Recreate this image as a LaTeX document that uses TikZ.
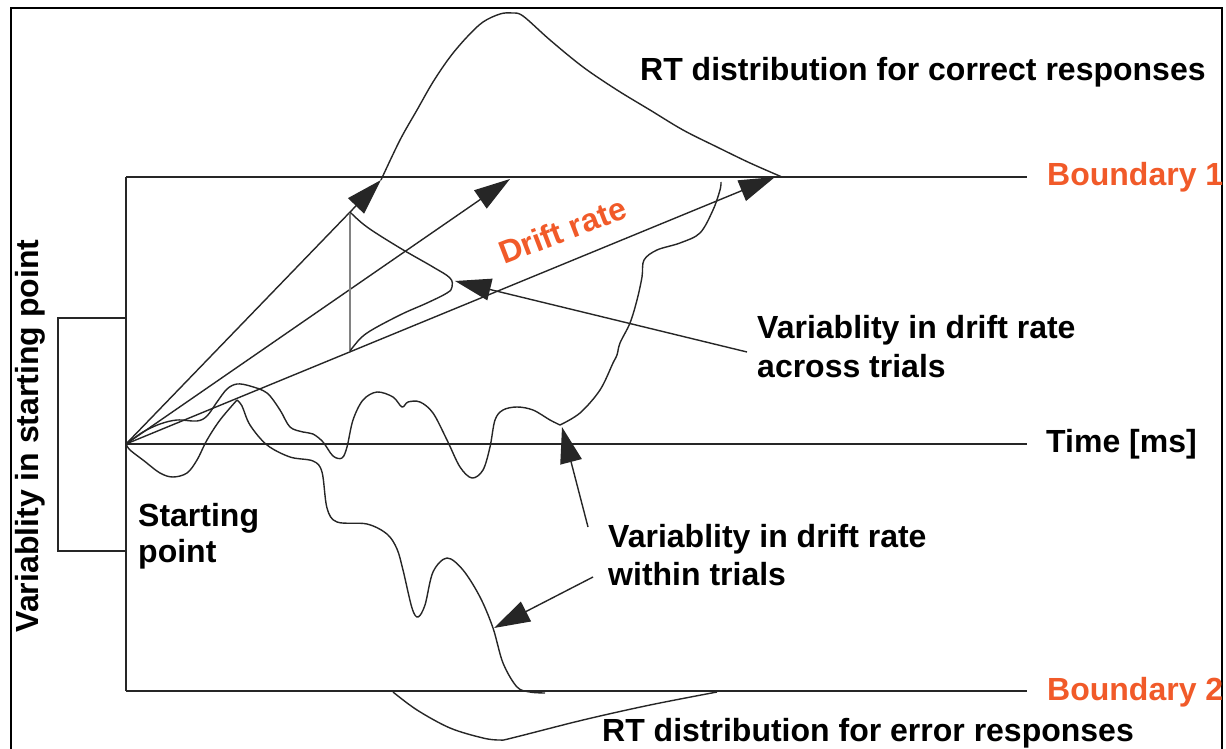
\documentclass[tikz,border=0pt]{standalone}
\usepackage{fontspec}
\setmainfont{Liberation Sans}
\usetikzlibrary{arrows.meta}
\definecolor{ddmorange}{RGB}{241,90,41}
\definecolor{ink}{RGB}{38,38,38}
\definecolor{softgray}{RGB}{130,130,130}

\begin{document}
\begin{tikzpicture}[x=1pt,y=-1pt,
  frameline/.style={line width=2.4pt, draw=ink},
  boxline/.style={line width=2.6pt, draw=black},
  pathline/.style={line width=1.4pt, draw=ink, line join=round},
  ptr/.style={line width=1.4pt, draw=ink, -{Triangle[length=36pt,width=22pt]}},
  lbl/.style={font=\fontsize{32}{38}\selectfont\bfseries, inner sep=0pt, anchor=base west},
  olbl/.style={lbl, text=ddmorange},
]
\fill[white] (0,0) rectangle (1226,749);
\useasboundingbox (0,0) rectangle (1226,749);

% outer box, open at the bottom
\draw[boxline] (11,749) -- (11,8) -- (1222,8) -- (1222,749);

% key points
\coordinate (S) at (126,444);
\coordinate (B1L) at (126,177);
\coordinate (B1R) at (1027,177);
\coordinate (B2L) at (126,691);
\coordinate (B2R) at (1027,691);
\coordinate (TR) at (1027,444);

% boundaries, time axis and left edge
\draw[frameline] (B1L) -- (B1R);
\draw[frameline] (B2L) -- (B2R);
\draw[frameline] (S) -- (TR);
\draw[frameline] (B1L) -- (B2L);

% starting-point range bracket
\coordinate (brT) at (126,318);
\coordinate (brB) at (126,551);
\draw[frameline] (brT) -- (58,318) -- (58,551) -- (brB);

% drift rates across trials
\coordinate (tip1) at (381,180);
\coordinate (tip2) at (510,179);
\coordinate (tip3) at (775,177);
\draw[ptr] (S) -- (tip1);
\draw[ptr] (S) -- (tip2);
\draw[ptr] (S) -- (tip3);

% spread of drift rates
\draw[line width=1.6pt, draw=softgray] (350,213) -- (350,352);
\draw[pathline] plot[smooth, tension=0.6] coordinates {
  (350,212) (367,227) (400,248) (433,267) (450,278) (452,287) (447,293)
  (427,303) (400,315) (367,333) (353,347) (350,352)};

% RT distribution for correct responses
\draw[pathline] plot[smooth, tension=0.55] coordinates {
  (381,180) (400,140) (417,110) (433,82) (450,57) (467,37) (483,22)
  (500,14) (512,13) (523,16) (550,40) (583,67) (617,90) (650,110)
  (683,130) (717,147) (750,163) (782,177)};

% RT distribution for error responses
\draw[pathline] plot[smooth, tension=0.55] coordinates {
  (393,692) (417,710) (450,728) (483,738) (500,740) (512,738)
  (583,720) (650,705) (717,692)};

% sample path ending at boundary 1
\coordinate (kinkA) at (560,425);
\draw[pathline] plot[smooth, tension=0.55] coordinates {
  (126,444) (143,432) (160,424) (177,420) (197,421) (207,416) (217,402)
  (227,389) (237,384) (250,386) (267,393) (280,410) (290,427) (303,432)
  (313,434) (323,442) (333,456) (342,458) (347,447) (353,420) (363,400)
  (377,392) (393,397) (402,407) (408,402) (420,402) (433,413) (447,440)
  (460,467) (472,478) (483,470) (490,447) (495,420) (503,410) (517,407)
  (533,410) (550,420) (560,425)};
\draw[pathline] plot[smooth, tension=0.55] coordinates {
  (560,425) (580,413) (600,390) (613,363) (617,355) (620,343) (630,323)
  (637,300) (642,277) (644,260) (657,250) (680,243) (700,233) (713,210)
  (720,190) (721,182)};

% sample path ending at boundary 2
\draw[pathline] plot[smooth, tension=0.55] coordinates {
  (126,444) (130,450) (143,460) (160,473) (173,477) (187,473) (197,460)
  (207,440) (220,420) (237,400)};
\draw[pathline] plot[smooth, tension=0.55] coordinates {
  (237,400) (242,406) (250,425) (267,445) (290,457) (313,461) (322,472)
  (327,508) (337,522) (367,524) (387,534) (397,549) (403,570) (412,608)
  (418,617) (425,605) (433,572) (447,558) (463,570) (480,597) (493,628)
  (503,663) (517,687) (530,692) (545,693)};

% pointers to the annotated features
\coordinate (acrossEnd) at (747,352);
\coordinate (acrossTip) at (455,281);
\draw[ptr] (acrossEnd) -- (acrossTip);
\coordinate (withinEndA) at (588,527);
\coordinate (withinTipA) at (562,427);
\draw[ptr] (withinEndA) -- (withinTipA);
\coordinate (withinEndB) at (593,577);
\coordinate (withinTipB) at (494,628);
\draw[ptr] (withinEndB) -- (withinTipB);

% labels
\node[lbl] (rtc) at (640,81) {RT distribution for correct responses};
\node[olbl] (b1) at (1047,185) {Boundary 1};
\node[olbl, rotate=21] (drift) at (504,265) {Drift rate};
\node[lbl] (acr1) at (757,338) {Variablity in drift rate};
\node[lbl] (acr2) at (757,377) {across trials};
\node[lbl] (time) at (1046,452) {Time [ms]};
\node[lbl] (sp1) at (138,526) {Starting};
\node[lbl] (sp2) at (138,562) {point};
\node[lbl] (win1) at (608,547) {Variablity in drift rate};
\node[lbl] (win2) at (608,585) {within trials};
\node[olbl] (b2) at (1047,700) {Boundary 2};
\node[lbl] (rte) at (602,741) {RT distribution for error responses};
\node[lbl, rotate=90, anchor=base] (vsp) at (38,436) {Variablity in starting point};
\end{tikzpicture}
\end{document}
